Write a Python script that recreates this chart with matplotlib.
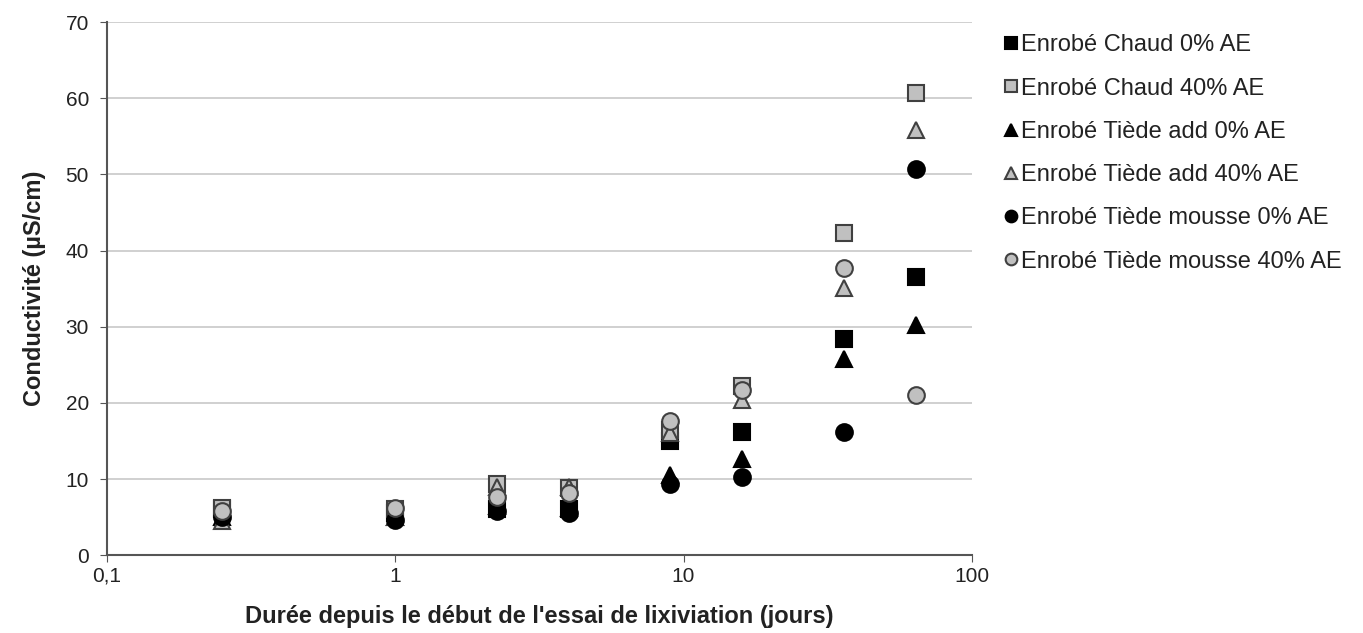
import matplotlib.pyplot as plt
from matplotlib.ticker import FixedLocator, NullLocator

# Durée (jours)
jours = [0.25, 1, 2.25, 4, 9, 16, 36, 64]

chaud_0 = [6.0, 5.5, 6.0, 6.0, 15.0, 16.2, 28.4, 36.5]
chaud_40 = [6.2, 6.0, 9.4, 8.8, 16.4, 22.2, 42.3, 60.7]
tiede_add_0 = [5.0, 5.0, 6.5, 6.2, 10.5, 12.6, 25.7, 30.2]
tiede_add_40 = [4.5, 5.0, 9.0, 9.0, 16.0, 20.4, 35.1, 55.9]
tiede_mousse_0 = [5.0, 4.6, 5.8, 5.5, 9.3, 10.3, 16.2, 50.7]
tiede_mousse_40 = [5.8, 6.2, 7.7, 8.1, 17.6, 21.7, 37.7, 21.0]

series = [
    ('Enrobé Chaud 0% AE', chaud_0, 's', 'black', 'black'),
    ('Enrobé Chaud 40% AE', chaud_40, 's', '#c0c0c0', '#404040'),
    ('Enrobé Tiède add 0% AE', tiede_add_0, '^', 'black', 'black'),
    ('Enrobé Tiède add 40% AE', tiede_add_40, '^', '#c0c0c0', '#404040'),
    ('Enrobé Tiède mousse 0% AE', tiede_mousse_0, 'o', 'black', 'black'),
    ('Enrobé Tiède mousse 40% AE', tiede_mousse_40, 'o', '#c0c0c0', '#404040'),
]

plt.rcParams['font.family'] = ['Liberation Sans', 'DejaVu Sans']

fig = plt.figure(figsize=(13.63, 6.33), dpi=100)
ax = fig.add_axes([0.0785, 0.123, 0.6345, 0.842])

for name, vals, m, fc, ec in series:
    ax.plot(jours, vals, linestyle='none', marker=m, markersize=12,
            markerfacecolor=fc, markeredgecolor=ec, markeredgewidth=1.5,
            label=name)

ax.set_xscale('log')
ax.set_xlim(0.1, 100)
ax.set_ylim(0, 70)
ax.xaxis.set_major_locator(FixedLocator([0.1, 1, 10, 100]))
ax.xaxis.set_minor_locator(NullLocator())
ax.set_xticklabels(['0,1', '1', '10', '100'])
ax.set_yticks(range(0, 71, 10))
ax.tick_params(labelsize=15, length=5, color='#555555', colors='#222222')
ax.tick_params(axis='y', pad=8)
ax.grid(axis='y', color='#c8c8c8', linewidth=1.2)
ax.set_axisbelow(True)
for s in ['top', 'right']:
    ax.spines[s].set_visible(False)
for s in ['left', 'bottom']:
    ax.spines[s].set_color('#555555')
    ax.spines[s].set_linewidth(1.5)

ax.set_xlabel("Durée depuis le début de l'essai de lixiviation (jours)",
              fontsize=17, fontweight='bold', labelpad=14, color='#222222')
ax.set_ylabel('Conductivité (µS/cm)', fontsize=17, fontweight='bold', labelpad=14,
              color='#222222')

ax.legend(loc='upper left', bbox_to_anchor=(1.028, 0.995), frameon=False,
          fontsize=17, handlelength=0.5, handletextpad=0.15, labelspacing=0.9,
          markerscale=0.7, borderaxespad=0, labelcolor='#222222')

fig.savefig('out.png', dpi=100)
